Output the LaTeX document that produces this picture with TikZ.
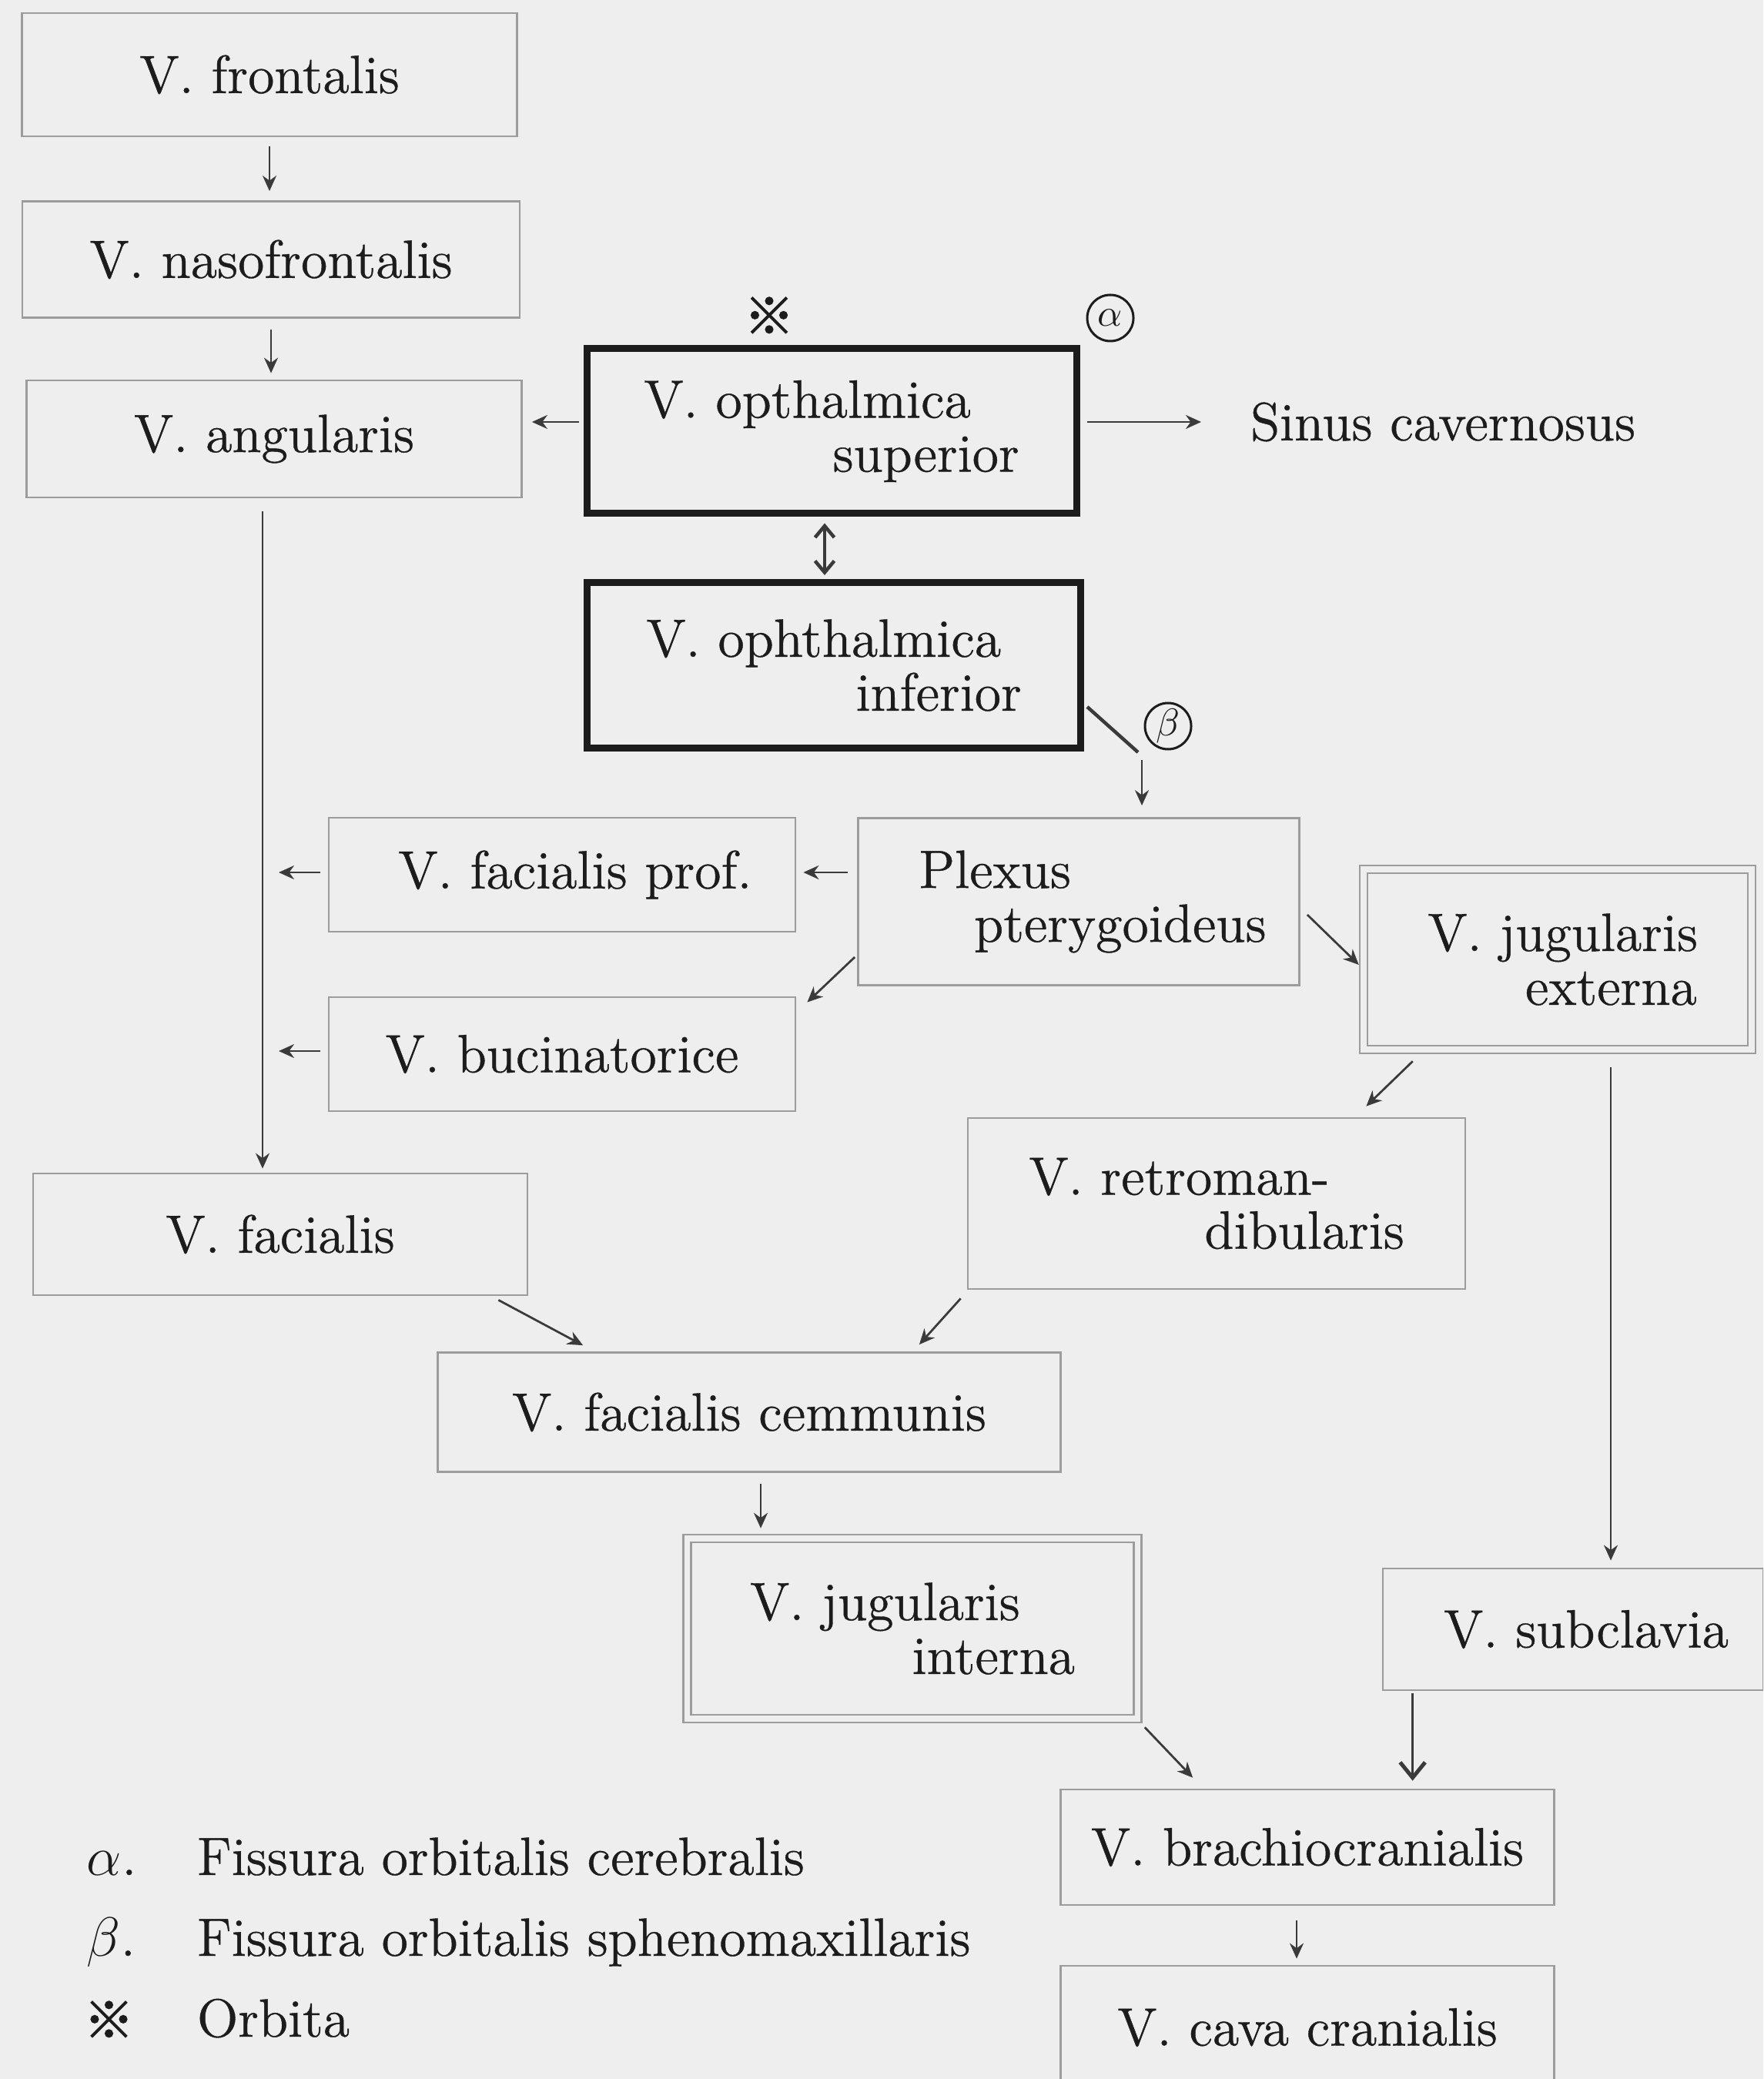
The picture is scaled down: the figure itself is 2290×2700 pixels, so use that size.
\documentclass[tikz,border=0pt]{standalone}
\usepackage{fontspec}
\setmainfont{Latin Modern Roman}[FakeBold=0.6]
\newfontfamily\cjk{Noto Sans CJK JP}[FakeBold=2]
\usetikzlibrary{arrows.meta,calc}
\definecolor{paper}{HTML}{EEEEEE}
\definecolor{boxline}{HTML}{9C9C9C}
\definecolor{ink}{HTML}{1C1C1C}
\definecolor{arrowink}{HTML}{3A3A3A}
% width, first line, second line, right gap, left pad
\newcommand\twoline[5]{\hspace*{#5}\vbox{\hbox to #1{#2\hfil}\hbox to #1{\hfil #3\hspace*{#4}}}}
\begin{document}
\begin{tikzpicture}[x=0.2pt,y=-0.2pt,
  every node/.style={text=ink, font=\fontsize{14}{14}\selectfont},
  plainbox/.style={draw=boxline, line width=0.55pt, inner sep=0pt},
  boldbox/.style={draw=ink, line width=1.8pt, inner sep=0pt},
  dblbox/.style={draw=boxline, line width=0.5pt, double=paper, double distance=1.5pt, inner sep=0pt},
  arr/.style={draw=arrowink, line width=0.55pt, -{Stealth[length=4pt,width=3.6pt]}},
  bigarr/.style={draw=arrowink, line width=0.6pt, -{Straight Barb[length=4pt,width=6.5pt,line width=1pt]}},
  circ/.style={draw=ink, circle, line width=0.6pt, minimum size=12pt, inner sep=0pt, font=\fontsize{10}{10}\selectfont},
  legend/.style={anchor=base west, inner sep=0pt},
  refmark/.style={font=\cjk\fontsize{13}{13}\selectfont, inner sep=0pt}]
\path[use as bounding box, fill=paper] (0,0) rectangle (2290,2700);
\clip (0,0) rectangle (2290,2700);

% boxes
\node[plainbox, minimum width=128.6pt, minimum height=32pt] (frontalis) at (350,97) {V. frontalis};
\node[plainbox, minimum width=129.2pt, minimum height=30.2pt] (nasofrontalis) at (352,337) {V. nasofrontalis};
\node[plainbox, minimum width=128.6pt, minimum height=30.4pt] (angularis) at (356,570) {V. angularis};
\node[boldbox, minimum width=127.2pt, minimum height=42.8pt] (superior) at (1080,560)
  {\twoline{97.5pt}{V. opthalmica}{superior}{0pt}{0pt}};
\node[boldbox, minimum width=128.2pt, minimum height=43pt] (inferior) at (1083,864)
  {\twoline{97.5pt}{V. ophthalmica}{inferior}{0pt}{0pt}};
\node[inner sep=0pt] (sinus) at (1874,548) {Sinus cavernosus};
\node[refmark] (orbita) at (999,410) {※};
\node[circ] (alpha) at (1442,413) {$\alpha$};
\node[circ] (beta) at (1517,943) {$\beta$};

\node[plainbox, minimum width=114.6pt, minimum height=43.4pt] (plexus) at (1401,1171)
  {\twoline{90.2pt}{Plexus}{pterygoideus}{0pt}{7.2pt}};
\node[plainbox, minimum width=121.2pt, minimum height=29.6pt] (facprof) at (730,1136) {\hspace*{6.8pt}V. facialis prof.};
\node[plainbox, minimum width=121.2pt, minimum height=29.6pt] (bucin) at (730,1369) {V. bucinatorice};
\node[dblbox, minimum width=100.8pt, minimum height=46.8pt] (jugext) at (2023,1246)
  {\twoline{75.8pt}{V. jugularis}{externa}{5.9pt}{8.3pt}};
\node[plainbox, minimum width=129.2pt, minimum height=44.4pt] (retro) at (1580,1563)
  {\twoline{97.5pt}{V. retroman-}{dibularis}{0pt}{0pt}};
\node[plainbox, minimum width=128.4pt, minimum height=31.6pt] (facialis) at (364,1603) {V. facialis};
\node[plainbox, minimum width=161.8pt, minimum height=31pt] (cemmunis) at (973,1834) {V. facialis cemmunis};
\node[dblbox, minimum width=117pt, minimum height=46.8pt] (jugint) at (1185,2115)
  {\twoline{84.4pt}{V. jugularis}{interna}{0pt}{0pt}};
\node[plainbox, minimum width=98.8pt, minimum height=31.6pt] (subclavia) at (2043,2116) {\hspace*{6.8pt}V. subclavia};
\node[plainbox, minimum width=128.2pt, minimum height=30pt] (brachio) at (1698,2399) {V. brachiocranialis};
\node[plainbox, minimum width=128.2pt, minimum height=32pt] (cava) at (1698,2633) {V. cava cranialis};

% legend
\node[legend] (la) at (112,2435) {$\alpha$.};
\node[legend] (lat) at (255,2435) {Fissura orbitalis cerebralis};
\node[legend] (lb) at (112,2540) {$\beta$.};
\node[legend] (lbt) at (255,2540) {Fissura orbitalis sphenomaxillaris};
\node[legend, refmark, anchor=base west] (lo) at (108,2647) {※};
\node[legend] (lot) at (255,2645) {Orbita};

% connectors
\draw[arr, shorten <=2.4pt, shorten >=2.4pt] (frontalis.south) -- (frontalis.south |- nasofrontalis.north);
\draw[arr, shorten <=2.8pt, shorten >=1.6pt] (nasofrontalis.south) -- (nasofrontalis.south |- angularis.north);
\draw[arr] ($(superior.west)+(-6,-12)$) -- ($(angularis.east)+(12,-22)$);
\draw[arr] ($(superior.east)+(9,-12)$) -- ($(sinus.west)+(-63,0)$);
\coordinate (dtop) at ($(superior.south)+(-9,8)$);
\draw[arrowink, line width=0.9pt, {Straight Barb[length=3pt,width=5pt]}-{Straight Barb[length=3pt,width=5pt]}, shorten >=1pt]
  (dtop) -- (dtop |- inferior.north);
\coordinate (bb) at ($(inferior.east)+(70,113)$);
\draw[arrowink, line width=0.9pt] ($(inferior.east)+(4,54)$) -- (bb);
\coordinate (bt) at ($(bb)+(5,10)$);
\draw[arr, shorten >=3pt] (bt) -- (bt |- plexus.north);

\draw[arr] ($(plexus.west)+(-12,-38)$) -- ($(facprof.east)+(9,-3)$);
\coordinate (vtop) at ($(angularis.south)+(-15,17)$);
\coordinate (vbot) at (vtop |- facialis.north);
\draw[arr, shorten >=1pt] (vtop) -- (vbot);
\draw[arr] ($(facprof.west)+(-10,-3)$) -- ($(vtop |- facprof.west)+(21,-3)$);
\draw[arr] ($(bucin.west)+(-10,-4)$) -- ($(vtop |- bucin.west)+(21,-4)$);
\draw[arr] ($(plexus.west)+(-3,72)$) -- ($(bucin.north east)+(14,8)$);

\draw[arr] ($(plexus.east)+(9,17)$) -- ($(jugext.west)+(-5,7)$);
\draw[arr] ($(jugext.south west)+(65,14)$) -- ($(retro.north east)+(-130,-14)$);
\coordinate (st) at ($(jugext.south)+(69,22)$);
\draw[arr] (st) -- ($(st |- subclavia.north)+(0,-9)$);

\draw[arr] ($(facialis.south east)+(-39,5)$) -- ($(cemmunis.north west)+(190,-8)$);
\draw[arr] ($(retro.south west)+(-8,11)$) -- ($(cemmunis.north east)+(-185,-9)$);
\coordinate (ct) at ($(cemmunis.south)+(15,14)$);
\draw[arr] (ct) -- ($(ct |- jugint.north)+(0,-12)$);

\draw[arr] ($(jugint.south east)+(8,10)$) -- ($(brachio.north west)+(173,-14)$);
\coordinate (sb) at ($(subclavia.south west)+(40,3)$);
\draw[bigarr] (sb) -- ($(sb |- brachio.north)+(0,-10)$);
\coordinate (bc) at ($(brachio.south)+(-14,19)$);
\draw[arr] (bc) -- ($(bc |- cava.north)+(0,-8)$);
\end{tikzpicture}
\end{document}
